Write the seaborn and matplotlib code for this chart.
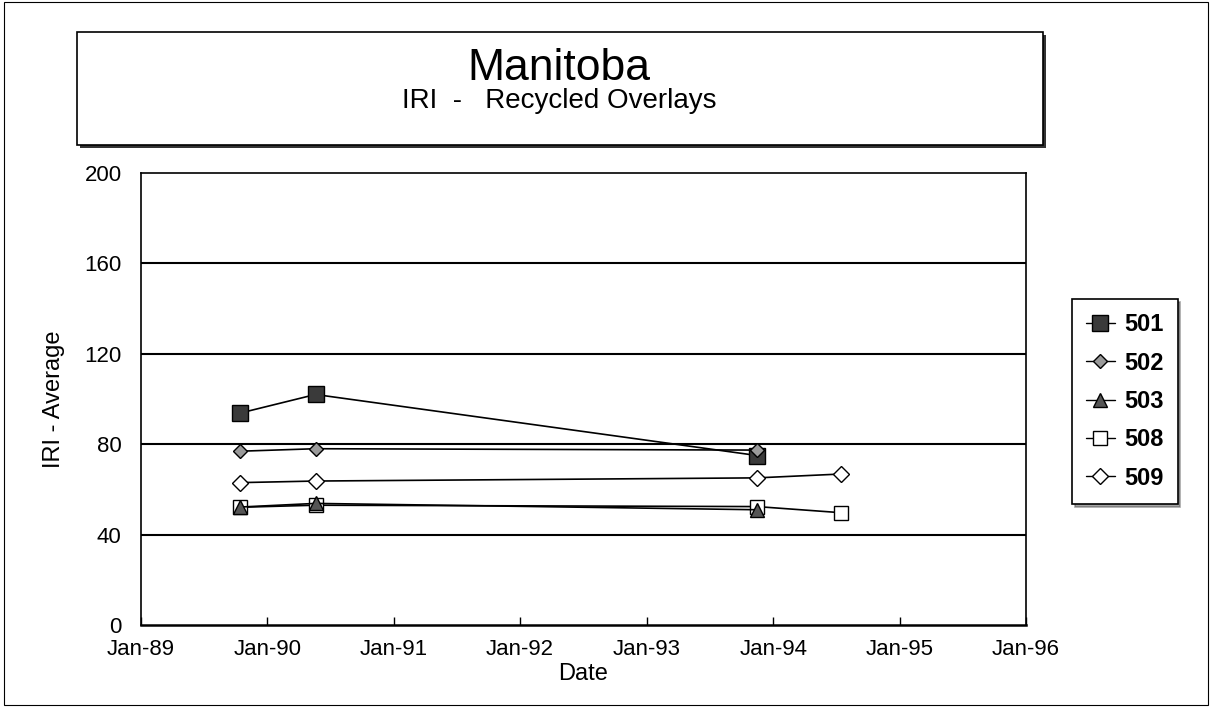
import matplotlib
matplotlib.use("Agg")
import matplotlib.pyplot as plt
import matplotlib.patches as mpatches
from matplotlib.lines import Line2D
import seaborn as sns
import pandas as pd

# ---- data ----
series_names = ["501", "502", "503", "508", "509"]
dates_3 = ["1989-10-15", "1990-05-20", "1993-11-15"]
dates_4 = ["1989-10-15", "1990-05-20", "1993-11-15", "1994-07-15"]
iri_501 = [93.8, 102.0, 75.0]
iri_502 = [76.9, 78.0, 77.4]
iri_503 = [52.2, 53.8, 51.0]
iri_508 = [52.1, 53.0, 52.4, 49.7]
iri_509 = [63.0, 63.7, 65.1, 66.8]
tick_dates = ["1989-01-01", "1990-01-01", "1991-01-01", "1992-01-01",
              "1993-01-01", "1994-01-01", "1995-01-01", "1996-01-01"]
tick_labels = ["Jan-89", "Jan-90", "Jan-91", "Jan-92", "Jan-93", "Jan-94", "Jan-95", "Jan-96"]
y_ticks = [0, 40, 80, 120, 160, 200]

sns.set_theme(style="white")
plt.rcParams["font.family"] = ["Liberation Sans", "DejaVu Sans"]
plt.rcParams["text.color"] = "black"
plt.rcParams["axes.labelcolor"] = "black"
plt.rcParams["xtick.color"] = "black"
plt.rcParams["ytick.color"] = "black"

W, H = 1212, 716
fig = plt.figure(figsize=(W / 100, H / 100), dpi=100)

def fx(px):
    return px / W

def fy(py):
    return 1 - py / H

# outer frame
fig.patches.append(mpatches.Rectangle((fx(4), fy(705)), fx(1204), (705 - 2) / H,
                                      transform=fig.transFigure, fill=False,
                                      edgecolor="black", lw=0.8))
# title box with shadow
fig.patches.append(mpatches.Rectangle((fx(80), fy(148)), fx(966), 113 / H,
                                      transform=fig.transFigure, facecolor="#333333",
                                      edgecolor="none", zorder=1))
fig.patches.append(mpatches.Rectangle((fx(77), fy(145)), fx(966), 113 / H,
                                      transform=fig.transFigure, facecolor="white",
                                      edgecolor="black", lw=1.2, zorder=2))
fig.text(fx(559), fy(80), "Manitoba", ha="center", va="baseline", fontsize=32,
         color="black", zorder=3)
fig.text(fx(559), fy(108), "IRI  -   Recycled Overlays", ha="center", va="baseline",
         fontsize=20, color="black", zorder=3)

ax = fig.add_axes([fx(141), fy(625), fx(885), 452 / H])

frames = {
    "501": (dates_3, iri_501),
    "502": (dates_3, iri_502),
    "503": (dates_3, iri_503),
    "508": (dates_4, iri_508),
    "509": (dates_4, iri_509),
}
styles = {
    "501": dict(marker="s", markersize=11, markerfacecolor="#3a3a3a"),
    "502": dict(marker="D", markersize=7.5, markerfacecolor="#9a9a9a"),
    "503": dict(marker="^", markersize=10, markerfacecolor="#555555"),
    "508": dict(marker="s", markersize=10, markerfacecolor="white"),
    "509": dict(marker="D", markersize=8, markerfacecolor="white"),
}
order = ["509", "508", "503", "501", "502"]
for i, name in enumerate(order):
    d, v = frames[name]
    df = pd.DataFrame({"date": pd.to_datetime(d), "iri": v})
    sns.lineplot(data=df, x="date", y="iri", ax=ax, color="black", lw=1.2,
                 markeredgecolor="black", markeredgewidth=1.0, legend=False,
                 zorder=3 + i, **styles[name])

ax.set_xlim(pd.Timestamp(tick_dates[0]), pd.Timestamp(tick_dates[-1]))
ax.set_ylim(0, 200)
ax.set_xticks(pd.to_datetime(tick_dates))
ax.set_xticklabels(tick_labels)
ax.set_yticks(y_ticks)
ax.set_yticklabels([str(t) for t in y_ticks])
for t in y_ticks[1:-1]:
    ax.axhline(t, color="black", lw=1.5, zorder=1)
ax.tick_params(axis="x", direction="in", length=6, width=1, color="black",
               labelcolor="black", labelsize=16, pad=10, bottom=True)
ax.tick_params(axis="y", length=0, labelsize=16, labelcolor="black", pad=14)
for s in ax.spines.values():
    s.set_color("black")
    s.set_linewidth(1.2)
ax.spines["bottom"].set_linewidth(1.8)
ax.set_xlabel("Date", fontsize=17, labelpad=2, color="black")
ax.set_ylabel("IRI - Average", fontsize=17, labelpad=14, color="black")
ax.grid(False)

handles = [Line2D([], [], color="black", lw=1.0, markeredgecolor="black",
                  markeredgewidth=1.0, **styles[n]) for n in series_names]
leg = fig.legend(handles, series_names, loc="upper left",
                 bbox_to_anchor=(fx(1072), fy(299)), bbox_transform=fig.transFigure,
                 frameon=True, fancybox=False, edgecolor="black", shadow=True,
                 prop={"size": 17, "weight": "bold"}, handlelength=1.2,
                 handletextpad=0.4, labelspacing=0.65, borderpad=0.6,
                 borderaxespad=0, labelcolor="black")
leg.get_frame().set_linewidth(1.2)

fig.savefig("out.png", dpi=100)
